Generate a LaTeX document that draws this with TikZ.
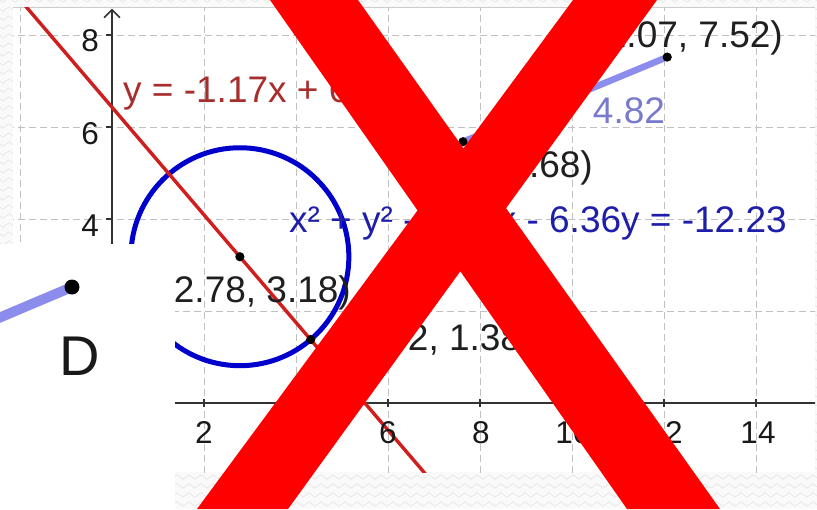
\documentclass[tikz,border=0pt]{standalone}
\usepackage{fontspec}
\setmainfont{Liberation Sans}
\usetikzlibrary{decorations.pathmorphing}
\definecolor{linecol}{RGB}{208,30,30}
\definecolor{linetext}{RGB}{168,45,45}
\definecolor{circcol}{RGB}{0,0,205}
\definecolor{circtext}{RGB}{30,30,170}
\definecolor{segcol}{RGB}{128,128,236}
\definecolor{segtext}{RGB}{122,122,205}
\definecolor{gridcol}{RGB}{192,192,192}
\definecolor{axiscol}{RGB}{50,50,50}
\definecolor{xred}{RGB}{255,0,0}
\definecolor{bgline}{RGB}{232,232,232}
\definecolor{bgfill}{RGB}{250,250,250}
\tikzset{
  gridline/.style={draw=gridcol, line width=1pt, dash pattern=on 7pt off 4pt},
  axisline/.style={draw=axiscol, line width=1.5pt},
  lbl/.style={font=\fontsize{37}{42}\selectfont, inner sep=0pt},
  ticklbl/.style={font=\fontsize{31.5}{36}\selectfont, inner sep=0pt, text=black!90},
  zz/.style={draw=bgline, line width=0.8pt, decorate, decoration={zigzag, segment length=12pt, amplitude=2.2pt}},
  ptdot/.style={fill=black},
}
\begin{document}
\begin{tikzpicture}[x=1pt,y=-1pt]
\useasboundingbox (0,0) rectangle (817,509);
% screenshot background
\fill[bgfill] (0,0) rectangle (817,509);
\foreach \yy in {0,9,...,513} \draw[zz] (-6,\yy) -- (823,\yy);
% graph area
\fill[white] (13,7) rectangle (815,472);
\draw[gridcol!80, line width=1pt] (13,7) -- (815,7);
\begin{scope}
\clip (13,7) rectangle (815,472);
\begin{scope}[shift={(112,403)}, x=46pt, y=46pt]
  \foreach \gx in {-2,2,4,6,8,10,12,14} \draw[gridline] (\gx,-2) -- (\gx,9);
  \foreach \gy in {2,4,6,8} \draw[gridline] (-3,\gy) -- (16,\gy);
  \draw[axisline] (-3,0) -- (16,0);
  \draw[axisline] (0,-2) -- (0,8.55);
  \draw[axisline] (0,8.55) ++(-8pt,-8pt) -- (0,8.55) -- ++(8pt,-8pt);
  \foreach \gx in {2,4,6,8,10,12,14} \draw[axisline] (\gx,0) ++(0,-4pt) -- ++(0,8pt);
  \foreach \gy in {2,4,6,8} \draw[axisline] (0,\gy) -- ++(-6pt,0);
  % circle and line
  \coordinate (C) at (2.78,3.18);
  \coordinate (P) at (4.32,1.38);
  \coordinate (A) at (7.63,5.68);
  \coordinate (B) at (12.07,7.52);
  \draw[circcol, line width=5pt] (C) circle[radius=2.369];
  \draw[linecol, line width=3.4pt] (-3,9.94) -- (8,-2.93);
  \draw[segcol, line width=6.5pt, opacity=0.9] (A) -- (B);
  \foreach \p in {C,P,A,B} \fill[ptdot] (\p) circle[radius=4.6pt];
\end{scope}
% tick labels
\node[ticklbl, anchor=base east] (t8) at (99,51) {8};
\node[ticklbl, anchor=base east] (t6) at (99,144) {6};
\node[ticklbl, anchor=base east] (t4) at (99,236) {4};
\node[ticklbl, anchor=base] (x2) at (204,443) {2};
\node[ticklbl, anchor=base] (x4) at (297,443) {4};
\node[ticklbl, anchor=base] (x6) at (388,443) {6};
\node[ticklbl, anchor=base] (x8) at (481,443) {8};
\node[ticklbl, anchor=base] (x10) at (573,443) {10};
\node[ticklbl, anchor=base] (x12) at (665,443) {12};
\node[ticklbl, anchor=base] (x14) at (758,443) {14};
% object labels
\node[lbl, text=linetext, anchor=base west] (leq) at (123,102) {y = -1.17x + 6.43};
\node[lbl, text=black!88, anchor=base east] (lB) at (783,47) {(12.07, 7.52)};
\node[lbl, text=segtext, anchor=base] (lseg) at (629,123) {4.82};
\node[lbl, text=black!88, anchor=base east] (lA) at (593,177) {(7.63, 5.68)};
\node[lbl, text=circtext, anchor=base east] (ceq) at (787,232) {x² + y² - 5.56x - 6.36y = -12.23};
\node[lbl, text=black!88, anchor=base east] (lC) at (351,302) {(2.78, 3.18)};
\node[lbl, text=black!88, anchor=base west] (lP) at (344,350) {(4.32, 1.38)};
\end{scope}
% inset
\fill[white] (0,244) rectangle (174.5,509);
\coordinate (D1) at (-6,320);
\coordinate (D2) at (72,287);
\draw[segcol, line width=10pt, opacity=0.9] (D1) -- (D2);
\fill[ptdot] (D2) circle[radius=7.5pt];
\node[font=\fontsize{56}{60}\selectfont, inner sep=0pt, anchor=base, text=black!90] (D) at (80,375) {D};
% red cross
\fill[xred] (270,0) -- (358,0) -- (720,509) -- (627,509) -- cycle;
\fill[xred] (573,0) -- (657,0) -- (288,509) -- (197,509) -- cycle;
\end{tikzpicture}
\end{document}
